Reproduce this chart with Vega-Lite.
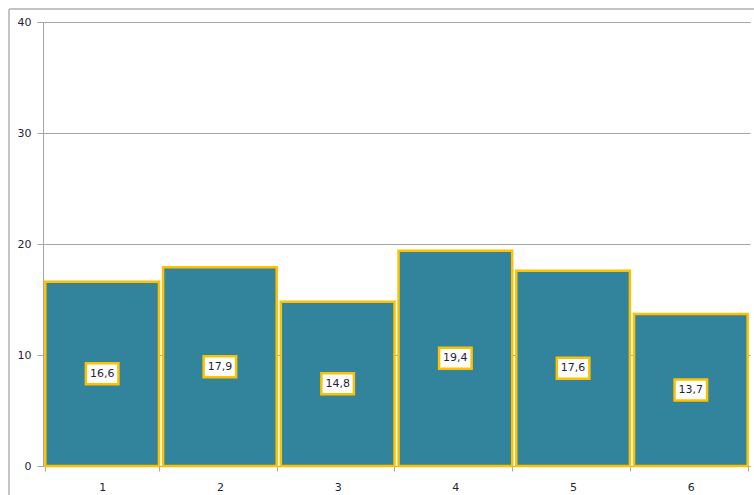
{
  "$schema": "https://vega.github.io/schema/vega-lite/v6.json",
  "width": 745,
  "height": 486,
  "autosize": {"type": "none"},
  "padding": {"left": 9, "top": 9, "right": 0, "bottom": 0},
  "background": "white",
  "config": {
    "view": {"stroke": "#c4c4c4", "strokeWidth": 2, "strokeDash": [745, 1231, 486, 0]},
    "font": "DejaVu Sans"
  },
  "data": {
    "values": [
      {"category": "1", "value": 16.6, "label": "16,6"},
      {"category": "2", "value": 17.9, "label": "17,9"},
      {"category": "3", "value": 14.8, "label": "14,8"},
      {"category": "4", "value": 19.4, "label": "19,4"},
      {"category": "5", "value": 17.6, "label": "17,6"},
      {"category": "6", "value": 13.7, "label": "13,7"}
    ]
  },
  "transform": [{"calculate": "datum.value / 2", "as": "mid"}],
  "encoding": {
    "x": {
      "field": "category",
      "type": "nominal",
      "sort": null,
      "scale": {"range": [34, 741], "paddingInner": 0.035, "paddingOuter": 0.02},
      "axis": {
        "title": null,
        "offset": -29,
        "labelAngle": 0,
        "tickBand": "extent",
        "tickSize": 5,
        "tickColor": "#a6a6a6",
        "domainColor": "#a6a6a6",
        "labelColor": "#1f1f3a",
        "labelFontSize": 11,
        "labelPadding": 10
      }
    }
  },
  "layer": [
    {
      "mark": {"type": "bar", "fill": "#31849B", "stroke": "#FFC000", "strokeWidth": 2.5},
      "encoding": {
        "y": {
          "field": "value",
          "type": "quantitative",
          "scale": {"domain": [0, 40], "range": [457, 13], "nice": false},
          "axis": {
            "title": null,
            "offset": -34,
            "values": [0, 10, 20, 30, 40],
            "grid": true,
            "gridColor": "#a6a6a6",
            "gridWidth": 1.2,
            "tickSize": 6,
            "tickColor": "#a6a6a6",
            "domainColor": "#a6a6a6",
            "labelColor": "#1f1f3a",
            "labelFontSize": 11,
            "labelPadding": 6
          }
        }
      }
    },
    {
      "mark": {
        "type": "point",
        "shape": "M-1.55,-1H1.55V1H-1.55Z",
        "size": 441,
        "filled": true,
        "fill": "white",
        "stroke": "#FFC000",
        "strokeWidth": 2.5,
        "opacity": 1
      },
      "encoding": {"y": {"field": "mid", "type": "quantitative"}}
    },
    {
      "mark": {"type": "text", "fontSize": 11, "color": "#1f1f3a", "baseline": "middle"},
      "encoding": {
        "y": {"field": "mid", "type": "quantitative"},
        "text": {"field": "label"}
      }
    }
  ]
}
